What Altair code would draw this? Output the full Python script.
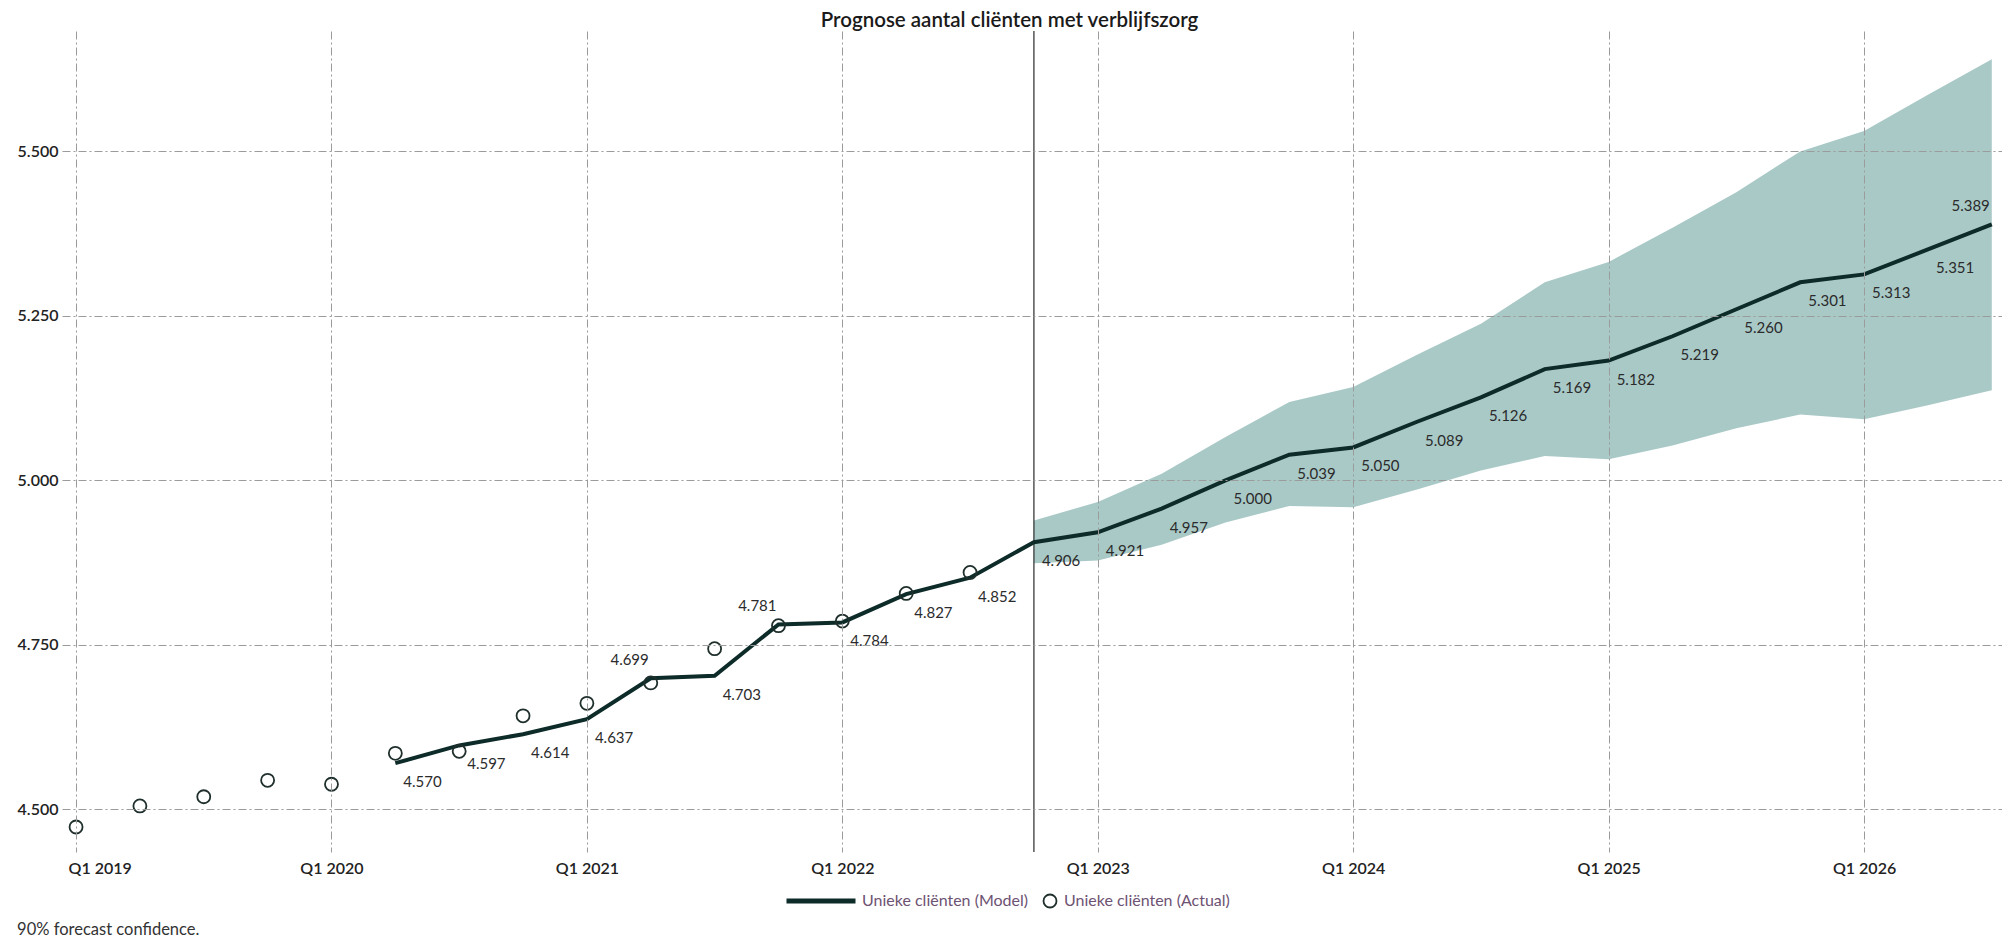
import json
import altair as alt
import pandas as pd

# ---------------- data ----------------
quarters = ["Q1 2019", "Q2 2019", "Q3 2019", "Q4 2019", "Q1 2020", "Q2 2020", "Q3 2020", "Q4 2020",
            "Q1 2021", "Q2 2021", "Q3 2021", "Q4 2021", "Q1 2022", "Q2 2022", "Q3 2022", "Q4 2022",
            "Q1 2023", "Q2 2023", "Q3 2023", "Q4 2023", "Q1 2024", "Q2 2024", "Q3 2024", "Q4 2024",
            "Q1 2025", "Q2 2025", "Q3 2025", "Q4 2025", "Q1 2026", "Q2 2026", "Q3 2026"]

actual_quarters = quarters[0:15]
actual_values = [4473, 4505, 4519, 4544, 4538, 4585, 4588, 4642, 4661, 4692,
                 4744, 4779, 4786, 4828, 4860]

model_quarters = quarters[5:31]
model_values = [4570, 4597, 4614, 4637, 4699, 4703, 4781, 4784, 4827, 4852,
                4906, 4921, 4957, 5000, 5039, 5050, 5089, 5126, 5169, 5182,
                5219, 5260, 5301, 5313, 5351, 5389]

band_quarters = quarters[15:31]
band_lower = [4874, 4878, 4902, 4936, 4961, 4959, 4986, 5015, 5037, 5032,
              5053, 5079, 5100, 5093, 5114, 5137]
band_upper = [4939, 4967, 5010, 5066, 5119, 5142, 5191, 5238, 5301, 5332,
              5384, 5438, 5500, 5531, 5586, 5640]

forecast_start = "Q4 2022"
x_tick_labels = ["Q1 2019", "Q1 2020", "Q1 2021", "Q1 2022", "Q1 2023", "Q1 2024", "Q1 2025", "Q1 2026"]
y_ticks = [4500, 4750, 5000, 5250, 5500]
labels_above = ["Q2 2021", "Q4 2021", "Q3 2026"]

model_name = "Unieke cliënten (Model)"
actual_name = "Unieke cliënten (Actual)"
title_text = "Prognose aantal cliënten met verblijfszorg"
footnote = "90% forecast confidence."

# ---------------- tables ----------------
def nl(v):
    return f"{v:,}".replace(",", ".")

actual_df = pd.DataFrame({"idx": [quarters.index(q) for q in actual_quarters],
                          "value": actual_values, "series": actual_name})
model_df = pd.DataFrame({"idx": [quarters.index(q) for q in model_quarters],
                         "value": model_values, "series": model_name,
                         "q": model_quarters,
                         "lbl": [nl(v) for v in model_values]})
band_df = pd.DataFrame({"idx": [quarters.index(q) for q in band_quarters],
                        "lower": band_lower, "upper": band_upper})
rule_df = pd.DataFrame({"idx": [quarters.index(forecast_start)]})

below_df = model_df[~model_df["q"].isin(labels_above)]
above_df = model_df[model_df["q"].isin(labels_above)]

# ---------------- styling ----------------
FONT = "Lato"
W, H = 1940, 821
DASH = [8, 3, 2, 3]
GRID = "#9b9b9b"

x_scale = alt.Scale(domain=[-0.22, 30.16], nice=False, zero=False)
y_scale = alt.Scale(domain=[4435, 5683], nice=False, zero=False)

x_axis = alt.Axis(
    values=[quarters.index(t) for t in x_tick_labels],
    labelExpr=json.dumps(quarters, ensure_ascii=False) + "[datum.value]",
    title=None, grid=True, gridDash=DASH, gridColor=GRID, gridWidth=1,
    ticks=False, domain=False, labelFont=FONT, labelFontSize=16,
    labelFontWeight=600, labelColor="#222222", labelPadding=8, labelFlush=False,
    labelAlign={"condition": {"test": "datum.value === 0", "value": "left"}, "value": "center"},
    labelOffset={"condition": {"test": "datum.value === 0", "value": -8}, "value": 0},
    zindex=1,
)
y_axis = alt.Axis(
    values=y_ticks, labelExpr="replace(format(datum.value, ','), ',', '.')",
    title=None, grid=True, gridDash=DASH, gridColor=GRID, gridWidth=1,
    ticks=False, domain=False, labelFont=FONT, labelFontSize=16,
    labelFontWeight=600, labelColor="#222222", labelPadding=4, zindex=1,
)

X = alt.X("idx:Q", scale=x_scale, axis=x_axis)

band = alt.Chart(band_df).mark_area(color="#a9c9c7", opacity=1).encode(
    x=X,
    y=alt.Y("lower:Q", scale=y_scale, axis=y_axis),
    y2="upper:Q",
)

rule = alt.Chart(rule_df).mark_rule(color="#2a2a2a", strokeWidth=1.2).encode(x=X)

line = alt.Chart(model_df).mark_line(strokeWidth=4, strokeJoin="miter").encode(
    x=X,
    y=alt.Y("value:Q", scale=y_scale),
    color=alt.Color("series:N",
                    scale=alt.Scale(domain=[model_name], range=["#0d2b28"]),
                    legend=alt.Legend(title=None, orient="none", legendX=722, legendY=833,
                                      symbolType="stroke", symbolSize=4761, symbolStrokeWidth=5,
                                      labelFont=FONT, labelFontSize=16, labelColor="#6d5272",
                                      labelOffset=4, labelLimit=400, padding=0)),
)

points = alt.Chart(actual_df).mark_point(filled=False, size=169, strokeWidth=1.8,
                                         color="#1f2f2c", opacity=1).encode(
    x=X,
    y=alt.Y("value:Q", scale=y_scale),
    shape=alt.Shape("series:N",
                    scale=alt.Scale(domain=[actual_name], range=["circle"]),
                    legend=alt.Legend(title=None, orient="none", legendX=980, legendY=862,
                                      symbolSize=169, symbolStrokeWidth=1.8,
                                      symbolStrokeColor="#1f2f2c",
                                      labelFont=FONT, labelFontSize=16, labelColor="#6d5272",
                                      labelOffset=6, labelLimit=400, padding=0)),
)

text_below = alt.Chart(below_df).mark_text(
    align="left", baseline="middle", dx=8, dy=19, font=FONT, fontSize=15, color="#2b2b2b"
).encode(x=X, y=alt.Y("value:Q", scale=y_scale), text="lbl:N")

text_above = alt.Chart(above_df).mark_text(
    align="right", baseline="middle", dx=-2, dy=-18, font=FONT, fontSize=15, color="#2b2b2b"
).encode(x=X, y=alt.Y("value:Q", scale=y_scale), text="lbl:N")

main = alt.layer(band, rule, line, points, text_below, text_above).properties(
    width=W, height=H,
    title=alt.TitleParams(title_text, font=FONT, fontSize=20.5, fontWeight=600,
                          color="#1a1a1a", anchor="middle", frame="bounds", offset=-1),
)

chart = alt.vconcat(main, spacing=0).properties(
    title=alt.TitleParams(footnote, orient="bottom", anchor="start", frame="bounds",
                          font=FONT, fontSize=16.5, fontWeight="normal", color="#333333",
                          offset=10),
).configure(
    padding={"left": 9, "top": 2, "right": 0, "bottom": 0},
).configure_view(stroke=None)

chart.save("out.html", embed_options={"renderer": "svg", "actions": False})
